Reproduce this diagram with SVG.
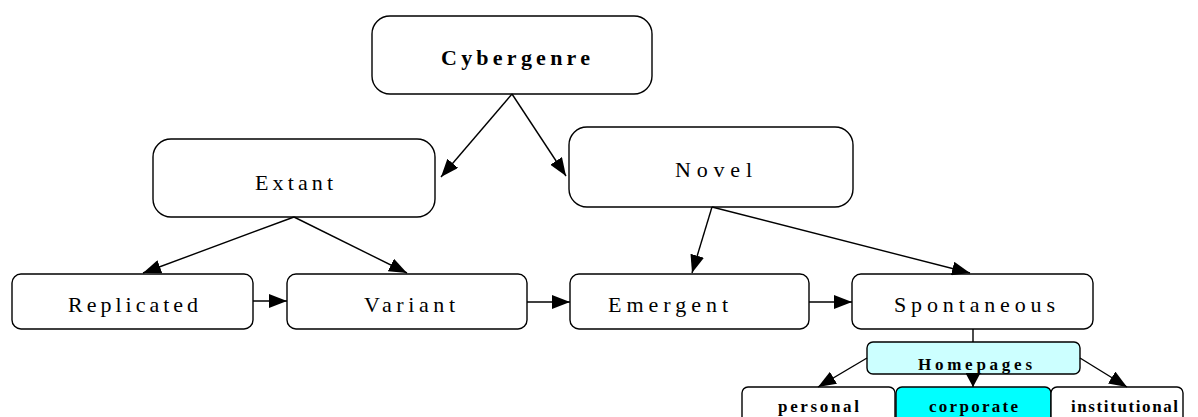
<svg xmlns="http://www.w3.org/2000/svg" width="1198" height="417" viewBox="0 0 1198 417">
  <style>
    .box { fill: #ffffff; stroke: #000000; stroke-width: 1.4; }
    .sub { fill: #ccffff; }
    .hot { fill: #00ffff; }
    .lbl { font-family: "Liberation Serif", "DejaVu Serif", serif; font-size: 22px; fill: #000000; }
    .bold { font-weight: bold; }
    .small { font-family: "Liberation Serif", "DejaVu Serif", serif; font-size: 17px; font-weight: bold; fill: #000000; }
    .edge { stroke: #000000; stroke-width: 1.4; fill: none; marker-end: url(#arrow); }
    .plain { stroke: #000000; stroke-width: 1.4; fill: none; }
  </style>
  <defs>
    <marker id="arrow" markerUnits="userSpaceOnUse" markerWidth="18" markerHeight="14" refX="18" refY="7" orient="auto">
      <path d="M0,0 L18,7 L0,14 Z" fill="#000000"/>
    </marker>
    <marker id="arrowShort" markerUnits="userSpaceOnUse" markerWidth="14" markerHeight="15" refX="14" refY="7.5" orient="auto">
      <path d="M0,0 L14,7.5 L0,15 Z" fill="#000000"/>
    </marker>
  </defs>

  <rect width="1198" height="417" fill="#ffffff"/>

  <g id="cybergenre">
    <rect class="box" x="372" y="16" width="280" height="78" rx="18"/>
    <text class="lbl bold" x="441" y="65" textLength="149" lengthAdjust="spacing">Cybergenre</text>
  </g>
  <g id="extant">
    <rect class="box" x="153" y="139" width="282" height="78" rx="18"/>
    <text class="lbl" x="255" y="190" textLength="78" lengthAdjust="spacing">Extant</text>
  </g>
  <g id="novel">
    <rect class="box" x="569" y="127" width="284" height="80" rx="18"/>
    <text class="lbl" x="675" y="177" textLength="77" lengthAdjust="spacing">Novel</text>
  </g>
  <g id="replicated">
    <rect class="box" x="12" y="274" width="241" height="55" rx="9"/>
    <text class="lbl" x="68" y="312" textLength="130" lengthAdjust="spacing">Replicated</text>
  </g>
  <g id="variant">
    <rect class="box" x="287" y="274" width="240" height="55" rx="9"/>
    <text class="lbl" x="364" y="312" textLength="91" lengthAdjust="spacing">Variant</text>
  </g>
  <g id="emergent">
    <rect class="box" x="570" y="274" width="239" height="55" rx="9"/>
    <text class="lbl" x="608" y="312" textLength="120" lengthAdjust="spacing">Emergent</text>
  </g>
  <g id="spontaneous">
    <rect class="box" x="852" y="274" width="241" height="55" rx="9"/>
    <text class="lbl" x="894" y="312" textLength="161" lengthAdjust="spacing">Spontaneous</text>
  </g>
  <g id="homepages">
    <rect class="box sub" x="867" y="342" width="213" height="32" rx="6"/>
    <text class="small" x="918" y="370" textLength="114" lengthAdjust="spacing">Homepages</text>
  </g>
  <g id="personal">
    <rect class="box" x="742" y="387" width="153" height="40" rx="6"/>
    <text class="small" x="778" y="412" textLength="81" lengthAdjust="spacing">personal</text>
  </g>
  <g id="corporate">
    <rect class="box hot" x="896" y="387" width="155" height="40" rx="6"/>
    <text class="small" x="929" y="412" textLength="89" lengthAdjust="spacing">corporate</text>
  </g>
  <g id="institutional">
    <rect class="box" x="1051" y="387" width="132" height="40" rx="6"/>
    <text class="small" x="1071" y="412" textLength="107" lengthAdjust="spacing">institutional</text>
  </g>

  <g id="connectors">
    <line class="edge" x1="512" y1="94" x2="441" y2="177"/>
    <line class="edge" x1="512" y1="94" x2="566" y2="176"/>
    <line class="edge" x1="294" y1="217" x2="143" y2="273"/>
    <line class="edge" x1="294" y1="217" x2="407" y2="273"/>
    <line class="edge" x1="712" y1="207" x2="692" y2="273"/>
    <line class="edge" x1="712" y1="207" x2="970" y2="273"/>
    <line class="edge" x1="253" y1="301" x2="287" y2="301"/>
    <line class="edge" x1="527" y1="302" x2="570" y2="302"/>
    <line class="edge" x1="809" y1="302" x2="852" y2="302"/>
    <line class="plain" x1="973" y1="329" x2="973" y2="342"/>
    <line class="edge" x1="867" y1="358" x2="818" y2="387"/>
    <line stroke="#000000" stroke-width="1.4" marker-end="url(#arrowShort)" x1="973" y1="373" x2="973" y2="387"/>
    <line class="edge" x1="1080" y1="358" x2="1127" y2="387"/>
  </g>
</svg>
